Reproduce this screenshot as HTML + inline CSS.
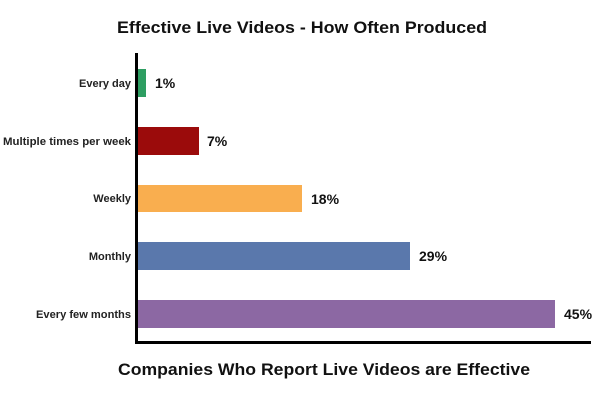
<!DOCTYPE html>
<html><head><style>
body{margin:0;width:600px;height:400px;background:#fff;overflow:hidden}
svg{font-family:"Liberation Sans",sans-serif}
</style></head><body>
<svg width="600" height="400" xmlns="http://www.w3.org/2000/svg">
<text x="117" y="33" textLength="370" lengthAdjust="spacingAndGlyphs" font-size="17" font-weight="bold" fill="#111">Effective Live Videos - How Often Produced</text>
<rect x="138" y="69" width="8" height="28" fill="#2e9e62"/>
<rect x="138" y="127" width="61" height="28" fill="#9b0b0b"/>
<rect x="138" y="185" width="164" height="27" fill="#f9ae4f"/>
<rect x="138" y="242" width="272" height="28" fill="#5a78ac"/>
<rect x="138" y="300" width="417" height="28" fill="#8c68a3"/>
<rect x="135" y="53" width="3" height="291" fill="#000"/>
<rect x="135" y="341" width="456" height="3" fill="#000"/>
<g font-size="11" font-weight="bold" fill="#222" text-anchor="end">
<text x="131" y="87">Every day</text>
<text x="131" y="145" textLength="128" lengthAdjust="spacingAndGlyphs">Multiple times per week</text>
<text x="131" y="202">Weekly</text>
<text x="131" y="260">Monthly</text>
<text x="131" y="318" textLength="95" lengthAdjust="spacingAndGlyphs">Every few months</text>
</g>
<g font-size="14" font-weight="bold" fill="#111">
<text x="155" y="88">1%</text>
<text x="207" y="146">7%</text>
<text x="311" y="204">18%</text>
<text x="419" y="261">29%</text>
<text x="564" y="319">45%</text>
</g>
<text x="118" y="375" textLength="412" lengthAdjust="spacingAndGlyphs" font-size="17" font-weight="bold" fill="#111">Companies Who Report Live Videos are Effective</text>
</svg>
</body></html>
